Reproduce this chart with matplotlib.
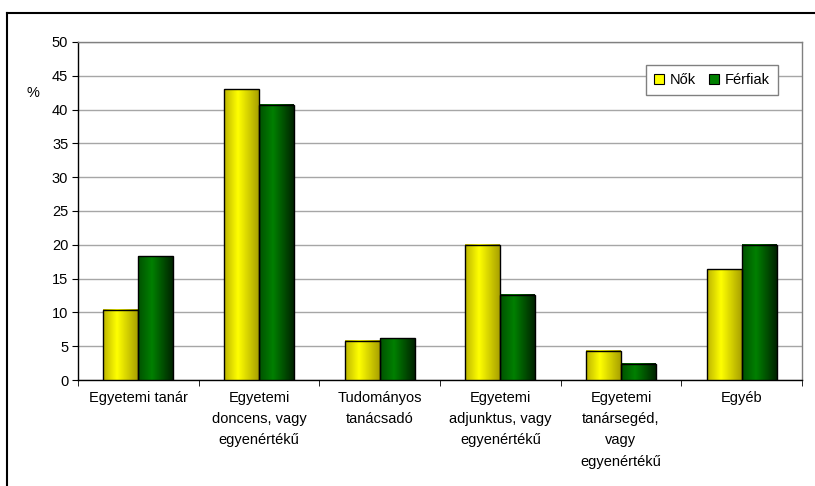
import numpy as np
import matplotlib.pyplot as plt
from matplotlib.patches import Patch
from matplotlib.lines import Line2D
from matplotlib.colors import to_rgb

plt.rcParams["font.family"] = ["Liberation Sans", "DejaVu Sans"]
plt.rcParams["font.size"] = 10.5

categories = [
    "Egyetemi tanár",
    "Egyetemi\ndoncens, vagy\negyenértékű",
    "Tudományos\ntanácsadó",
    "Egyetemi\nadjunktus, vagy\negyenértékű",
    "Egyetemi\ntanársegéd,\nvagy\negyenértékű",
    "Egyéb",
]
nok = [10.4, 43.0, 5.8, 20.0, 4.3, 16.4]
ferfiak = [18.3, 40.7, 6.2, 12.6, 2.4, 20.0]

# left / middle / right shades for the cylinder-like bar fill
yellow_shades = ["#bdb500", "#ffff00", "#a9a100"]
green_shades = ["#005200", "#008000", "#002400"]


def shade_strip(shades, n=64):
    l, m, r = [np.array(to_rgb(c)) for c in shades]
    t = np.linspace(0, 1, n)
    out = np.zeros((1, n, 3))
    for i, v in enumerate(t):
        if v < 0.4:
            f = v / 0.4
            out[0, i] = l + (m - l) * f
        else:
            f = (v - 0.4) / 0.6
            out[0, i] = m + (r - m) * f
    return out


fig = plt.figure(figsize=(8.15, 4.86), dpi=100)
ax = fig.add_axes([0.0957, 0.2181, 0.8883, 0.6955])

x = np.arange(len(categories))
w = 0.29

for vals, offs, shades in [(nok, -w / 2, yellow_shades), (ferfiak, w / 2, green_shades)]:
    bars = ax.bar(x + offs, vals, width=w, facecolor="none", edgecolor="black",
                  linewidth=1.0, zorder=4)
    strip = shade_strip(shades)
    for b in bars:
        x0, y0 = b.get_x(), b.get_y()
        ax.imshow(strip, extent=[x0, x0 + b.get_width(), y0, y0 + b.get_height()],
                  aspect="auto", interpolation="bilinear", zorder=3)

ax.set_xlim(-0.5, len(categories) - 0.5)
ax.set_ylim(0, 50)
ax.set_yticks(np.arange(0, 51, 5))
ax.yaxis.grid(True, color="#a6a6a6", linewidth=1.0)
ax.set_axisbelow(True)

ax.set_xticks(x)
ax.set_xticklabels(categories, linespacing=1.65, va="top")
ax.set_xticks(np.arange(-0.5, len(categories), 1), minor=True)
ax.tick_params(axis="x", which="major", length=0, pad=8)
ax.tick_params(axis="x", which="minor", length=4, direction="out", color="black")
ax.tick_params(axis="y", length=4, direction="out", color="black", pad=3)

for side in ["top", "right"]:
    ax.spines[side].set_color("#808080")
    ax.spines[side].set_linewidth(1.0)
for side in ["left", "bottom"]:
    ax.spines[side].set_color("black")
    ax.spines[side].set_linewidth(1.0)

ax.text(-0.062, 0.85, "%", transform=ax.transAxes, ha="center", va="center")

handles = [Patch(facecolor="#ffff00", edgecolor="black", linewidth=0.8, label="Nők"),
           Patch(facecolor="#008000", edgecolor="black", linewidth=0.8, label="Férfiak")]
leg = ax.legend(handles=handles, loc="upper right", bbox_to_anchor=(0.967, 0.932),
                borderaxespad=0, ncol=2, frameon=True, fancybox=False,
                edgecolor="#808080", handlelength=0.7, handleheight=0.7,
                handletextpad=0.4, columnspacing=0.9, borderpad=0.55, framealpha=1)
leg.get_frame().set_linewidth(1.0)

# outer chart frame (top and left edges)
fig.add_artist(Line2D([0.0086, 0.0086], [0.0, 0.973], color="black", linewidth=1.5,
                      transform=fig.transFigure))
fig.add_artist(Line2D([0.0086, 1.0], [0.973, 0.973], color="black", linewidth=1.5,
                      transform=fig.transFigure))

fig.savefig("out.png", dpi=100)
